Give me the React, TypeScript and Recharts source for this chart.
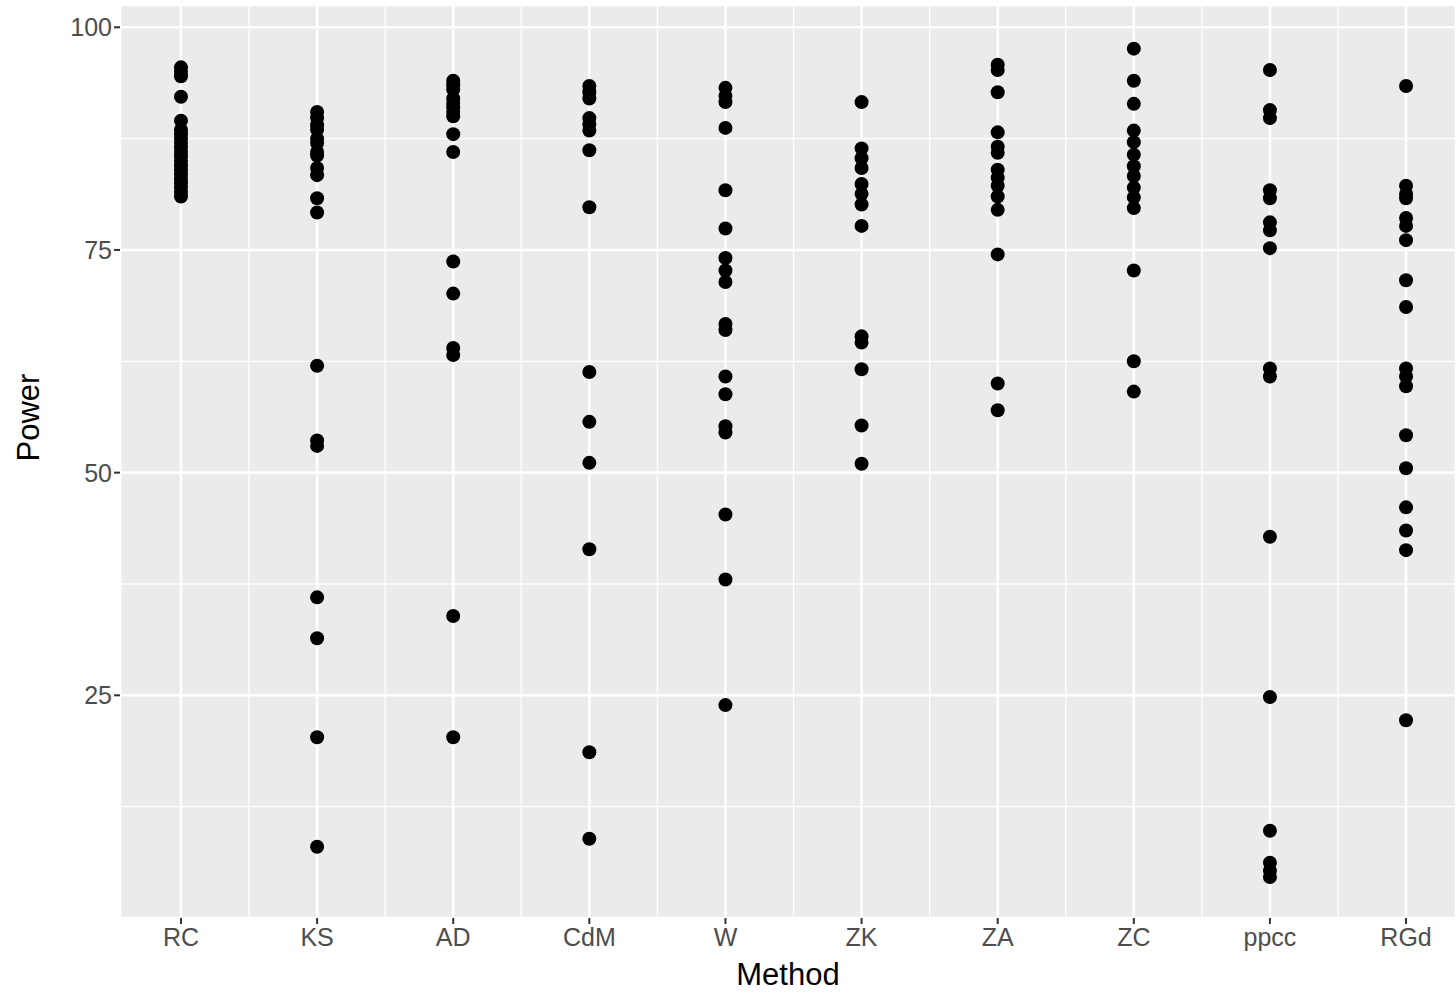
import { CartesianGrid, ReferenceLine, Scatter, ScatterChart, XAxis, YAxis } from "recharts";

const methods = ["RC", "KS", "AD", "CdM", "W", "ZK", "ZA", "ZC", "ppcc", "RGd"];

const rc = [95.5, 95, 94.5, 92.2, 89.5, 88.5, 88, 87.5, 87, 86.5, 86, 85.5, 85, 84.5, 84, 83.5, 83, 82.5, 82, 81.5, 81];
const ks = [90.5, 89.8, 89, 88.5, 87.5, 87, 86, 85.6, 84.2, 83.4, 80.8, 79.2, 62, 53.6, 53, 36, 31.4, 20.3, 8];
const ad = [94, 93.5, 93, 92, 91.5, 91, 90.5, 90, 88, 86, 73.7, 70.1, 64, 63.2, 33.9, 20.3];
const cdm = [93.4, 92.7, 92, 89.8, 89.1, 88.4, 86.2, 79.8, 61.3, 55.7, 51.1, 41.4, 18.6, 8.9];
const w = [93.2, 92.3, 91.6, 88.7, 81.7, 77.4, 74.1, 72.7, 71.4, 66.7, 66, 60.8, 58.8, 55.2, 54.5, 45.3, 38, 23.9];
const zk = [91.6, 86.4, 85.3, 84.2, 82.4, 81.3, 80.1, 77.7, 65.3, 64.6, 61.6, 55.3, 51];
const za = [95.8, 95.2, 92.7, 88.2, 86.6, 85.9, 84, 83.1, 82.2, 81, 79.5, 74.5, 60, 57];
const zc = [97.6, 94, 91.4, 88.4, 87.1, 85.7, 84.4, 83.3, 82, 80.9, 79.7, 72.7, 62.5, 59.1];
const ppcc = [95.2, 90.7, 89.8, 81.7, 80.8, 78.1, 77.2, 75.2, 61.7, 60.8, 42.8, 24.8, 9.8, 6.2, 5.3, 4.6];
const rgd = [93.4, 82.2, 81.3, 80.8, 78.6, 77.7, 76.1, 71.6, 68.6, 61.7, 60.8, 59.7, 54.2, 50.5, 46.1, 43.5, 41.3, 22.2];

const series = [rc, ks, ad, cdm, w, zk, za, zc, ppcc, rgd];
const yTicks = [25, 50, 75, 100];
const yMinor = [12.5, 37.5, 62.5, 87.5];
const xMinor = [1.5, 2.5, 3.5, 4.5, 5.5, 6.5, 7.5, 8.5, 9.5];

const data = series.flatMap((vals, i) => vals.map((v) => ({ x: i + 1, y: v })));

const font = "'Liberation Sans', Arial, sans-serif";

export default function App() {
  return (
    <div style={{ position: "absolute", left: 0, top: 0, background: "#fff" }}>
      <ScatterChart width={1456} height={995} margin={{ top: 5, right: 0, bottom: 0, left: 0 }}>
        <CartesianGrid fill="#ebebeb" stroke="#ffffff" strokeWidth={2.6} />
        {xMinor.map((x) => (
          <ReferenceLine key={"x" + x} x={x} stroke="#ffffff" strokeWidth={1.3} />
        ))}
        {yMinor.map((y) => (
          <ReferenceLine key={"y" + y} y={y} stroke="#ffffff" strokeWidth={1.3} />
        ))}
        <XAxis
          type="number"
          dataKey="x"
          domain={[0.552, 10.367]}
          ticks={methods.map((_, i) => i + 1)}
          tickFormatter={(v: number) => methods[v - 1]}
          allowDataOverflow
          axisLine={false}
          tickLine={{ stroke: "#333333", strokeWidth: 2 }}
          tickSize={6}
          tick={{ fill: "#4d4d4d", fontSize: 25, fontFamily: font, dy: 2 }}
          label={{ value: "Method", position: "insideBottom", offset: 0, dy: -10, fill: "#000", fontSize: 31, fontFamily: font }}
          height={77}
        />
        <YAxis
          type="number"
          dataKey="y"
          domain={[0, 102.5]}
          ticks={yTicks}
          allowDataOverflow
          axisLine={false}
          tickLine={{ stroke: "#333333", strokeWidth: 2 }}
          tickSize={6}
          tick={{ fill: "#4d4d4d", fontSize: 25, fontFamily: font }}
          width={120}
          label={{ value: "Power", angle: -90, position: "insideLeft", offset: 0, dx: 28, fill: "#000", fontSize: 31, fontFamily: font }}
        />
        <Scatter data={data} fill="#000000" isAnimationActive={false} shape={(p: any) => <circle cx={p.cx} cy={p.cy} r={7} fill="#000" />} />
      </ScatterChart>
    </div>
  );
}
